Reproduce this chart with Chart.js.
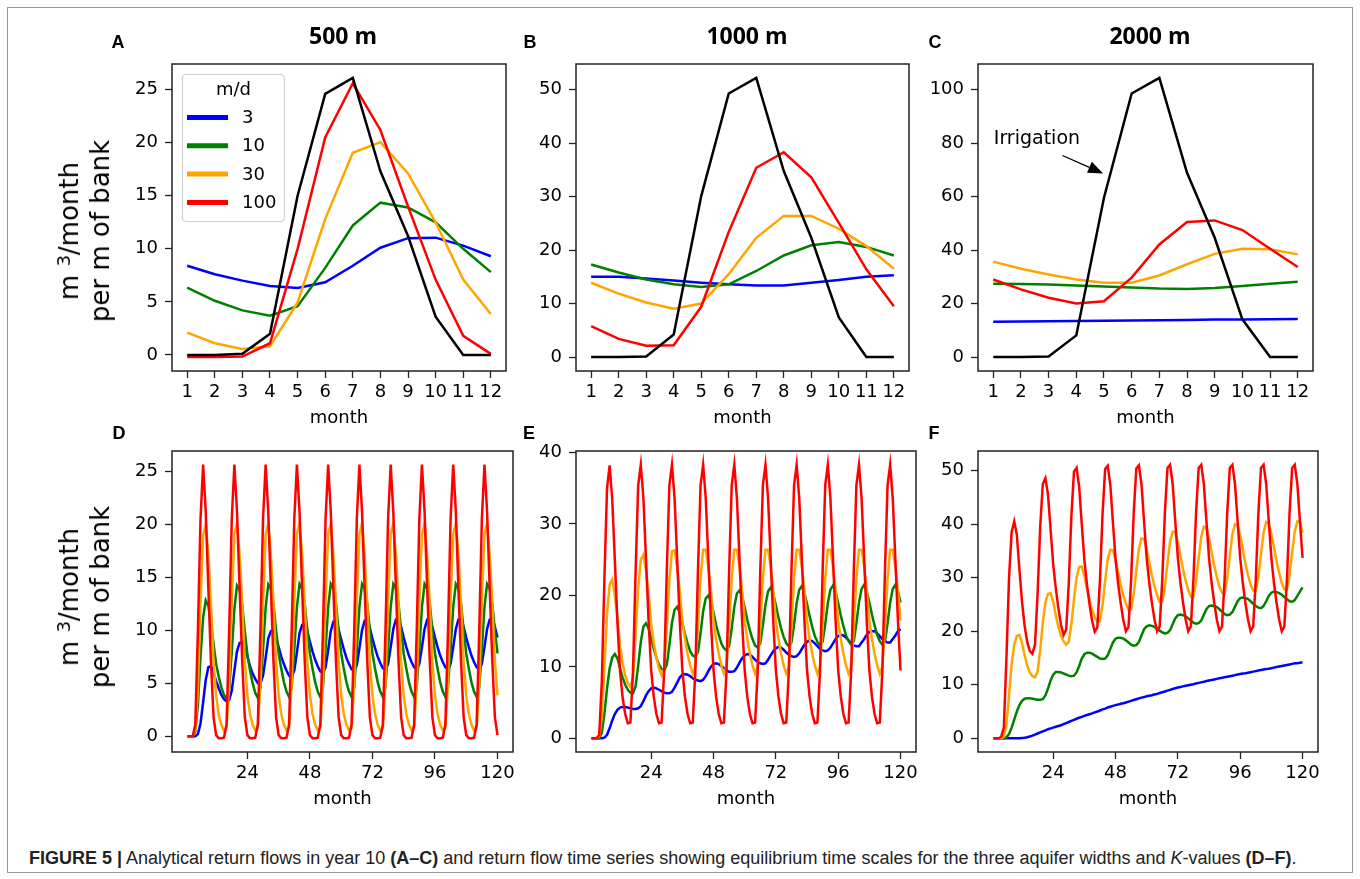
<!DOCTYPE html>
<html>
<head>
<meta charset="utf-8">
<script src="https://cdn.jsdelivr.net/npm/chart.js@4.4.0/dist/chart.umd.min.js"></script>
<style>
body { margin: 0; background: #fff; width: 1360px; height: 879px; position: relative; overflow: hidden; font-family: "DejaVu Sans", sans-serif; }
.frame { position: absolute; left: 7px; top: 7px; width: 1346px; height: 866px; border: 1px solid #999; box-sizing: border-box; }
canvas { position: absolute; }
.letter { position: absolute; font: bold 18px "Liberation Sans", Arial, sans-serif; transform: translate(-50%, -50%); }
.title { position: absolute; font: bold 23px "Open Sans", sans-serif; transform: translate(-50%, -50%); white-space: nowrap; }
.ylab { position: absolute; font: 26px "DejaVu Sans", sans-serif; line-height: 31px; text-align: center; white-space: nowrap; transform: translate(-50%, -50%) rotate(-90deg); }
.caption { position: absolute; left: 29px; top: 848px; font: 18px "Liberation Sans Narrow", "Liberation Sans", sans-serif; color: #222; white-space: nowrap; }
</style>
</head>
<body>
<div class="frame"></div>
<script>
// months on the x axis
const months = [1, 2, 3, 4, 5, 6, 7, 8, 9, 10, 11, 12];
const monthsLong = Array.from({ length: 120 }, (_, i) => i + 1);
const longTicks = [24, 48, 72, 96, 120];

// y tick labels
const aTicks = [0, 5, 10, 15, 20, 25];
const bTicks = [0, 10, 20, 30, 40, 50];
const cTicks = [0, 20, 40, 60, 80, 100];
const eTicks = [0, 10, 20, 30, 40];

// series names (K in m/d) + irrigation
const kLabels = ['3', '10', '30', '100'];

// year 10, 500 m
const aBlue = [8.4, 7.6, 7.0, 6.5, 6.3, 6.85, 8.4, 10.1, 11.0, 11.05, 10.3, 9.3];
const aGreen = [6.35, 5.1, 4.2, 3.7, 4.6, 8.2, 12.2, 14.35, 13.9, 12.5, 10.0, 7.8];
const aOrange = [2.1, 1.1, 0.55, 0.8, 4.95, 12.8, 19.05, 20.05, 17.1, 12.5, 7.1, 3.85];
const aRed = [-0.2, -0.2, -0.15, 1.1, 10.0, 20.5, 25.6, 21.2, 14.0, 7.1, 1.8, 0.1];
const aIrr = [0, 0, 0.1, 2.0, 15.0, 24.6, 26.1, 17.3, 11.2, 3.6, 0, 0];

// year 10, 1000 m
const bBlue = [15.0, 15.0, 14.7, 14.3, 13.9, 13.6, 13.4, 13.4, 13.9, 14.4, 15.0, 15.3];
const bGreen = [17.3, 15.8, 14.5, 13.6, 13.1, 13.6, 16.1, 19.0, 20.9, 21.5, 20.6, 19.0];
const bOrange = [13.9, 11.85, 10.2, 9.05, 10.0, 15.5, 22.3, 26.4, 26.4, 24.0, 20.75, 16.5];
const bRed = [5.8, 3.4, 2.1, 2.2, 9.4, 23.4, 35.4, 38.3, 33.6, 25.1, 16.4, 9.5];
const bIrr = [0, 0, 0.1, 4.2, 30.1, 49.3, 52.2, 34.8, 22.3, 7.4, 0, 0];

// year 10, 2000 m
const cBlue = [13.2, 13.3, 13.4, 13.5, 13.6, 13.7, 13.8, 13.9, 14.0, 14.0, 14.1, 14.2];
const cGreen = [27.4, 27.3, 27.1, 26.8, 26.4, 26.0, 25.6, 25.5, 25.8, 26.6, 27.4, 28.2];
const cOrange = [35.7, 33.0, 30.9, 29.0, 27.8, 27.8, 30.5, 34.7, 38.6, 40.5, 40.3, 38.4];
const cRed = [29.0, 25.3, 22.2, 20.0, 20.9, 29.7, 42.1, 50.5, 51.1, 47.5, 40.5, 33.7];
const cIrr = [0, 0, 0.2, 8.1, 59.6, 98.6, 104.4, 68.9, 44.6, 14.1, 0, 0];

// 10 year series, 500 m (one row per year)
const dBlue = [
  0, 0, 0, 0, 0.2, 1.2, 3.2, 5.3, 6.5, 6.6, 6.0, 5.2,
  4.5, 3.9, 3.5, 3.3, 3.4, 4.3, 6.2, 8.0, 8.8, 8.9, 8.3, 7.5,
  6.6, 5.9, 5.4, 5.0, 5.0, 5.7, 7.4, 9.2, 9.9, 10.0, 9.3, 8.4,
  7.5, 6.8, 6.2, 5.7, 5.6, 6.2, 7.9, 9.7, 10.5, 10.6, 9.9, 8.9,
  8.0, 7.2, 6.6, 6.1, 6.0, 6.5, 8.1, 9.9, 10.8, 10.9, 10.1, 9.1,
  8.2, 7.4, 6.8, 6.3, 6.2, 6.7, 8.3, 10.0, 10.9, 11.0, 10.2, 9.2,
  8.3, 7.5, 6.9, 6.4, 6.3, 6.8, 8.4, 10.1, 11.0, 11.05, 10.3, 9.3,
  8.4, 7.6, 7.0, 6.5, 6.3, 6.85, 8.4, 10.1, 11.0, 11.05, 10.3, 9.3,
  8.4, 7.6, 7.0, 6.5, 6.3, 6.85, 8.4, 10.1, 11.0, 11.05, 10.3, 9.3,
  8.4, 7.6, 7.0, 6.5, 6.3, 6.85, 8.4, 10.1, 11.0, 11.05, 10.3, 9.3
];
const dGreen = [
  0, 0, 0, 0.4, 3.0, 7.5, 11.2, 12.8, 12.3, 10.8, 8.7, 6.8,
  5.6, 4.6, 3.9, 3.5, 4.4, 8.0, 12.0, 14.2, 13.8, 12.4, 9.9, 7.7,
  6.2, 5.0, 4.1, 3.6, 4.55, 8.15, 12.15, 14.3, 13.9, 12.5, 10.0, 7.8,
  6.35, 5.1, 4.2, 3.7, 4.6, 8.2, 12.2, 14.35, 13.9, 12.5, 10.0, 7.8,
  6.35, 5.1, 4.2, 3.7, 4.6, 8.2, 12.2, 14.35, 13.9, 12.5, 10.0, 7.8,
  6.35, 5.1, 4.2, 3.7, 4.6, 8.2, 12.2, 14.35, 13.9, 12.5, 10.0, 7.8,
  6.35, 5.1, 4.2, 3.7, 4.6, 8.2, 12.2, 14.35, 13.9, 12.5, 10.0, 7.8,
  6.35, 5.1, 4.2, 3.7, 4.6, 8.2, 12.2, 14.35, 13.9, 12.5, 10.0, 7.8,
  6.35, 5.1, 4.2, 3.7, 4.6, 8.2, 12.2, 14.35, 13.9, 12.5, 10.0, 7.8,
  6.35, 5.1, 4.2, 3.7, 4.6, 8.2, 12.2, 14.35, 13.9, 12.5, 10.0, 7.8
];
const dOrange = [
  0, 0, 0, 0.6, 4.5, 12.5, 18.9, 20.0, 17.1, 12.5, 7.1, 3.85,
  2.0, 1.05, 0.5, 0.8, 4.95, 12.8, 19.05, 20.05, 17.1, 12.5, 7.1, 3.85,
  2.1, 1.1, 0.55, 0.8, 4.95, 12.8, 19.05, 20.05, 17.1, 12.5, 7.1, 3.85,
  2.1, 1.1, 0.55, 0.8, 4.95, 12.8, 19.05, 20.05, 17.1, 12.5, 7.1, 3.85,
  2.1, 1.1, 0.55, 0.8, 4.95, 12.8, 19.05, 20.05, 17.1, 12.5, 7.1, 3.85,
  2.1, 1.1, 0.55, 0.8, 4.95, 12.8, 19.05, 20.05, 17.1, 12.5, 7.1, 3.85,
  2.1, 1.1, 0.55, 0.8, 4.95, 12.8, 19.05, 20.05, 17.1, 12.5, 7.1, 3.85,
  2.1, 1.1, 0.55, 0.8, 4.95, 12.8, 19.05, 20.05, 17.1, 12.5, 7.1, 3.85,
  2.1, 1.1, 0.55, 0.8, 4.95, 12.8, 19.05, 20.05, 17.1, 12.5, 7.1, 3.85,
  2.1, 1.1, 0.55, 0.8, 4.95, 12.8, 19.05, 20.05, 17.1, 12.5, 7.1, 3.85
];
const dRed = [
  0, 0, 0, 1.1, 10.0, 20.5, 25.6, 21.2, 14.0, 7.1, 1.8, 0.1,
  -0.2, -0.2, -0.15, 1.1, 10.0, 20.5, 25.6, 21.2, 14.0, 7.1, 1.8, 0.1,
  -0.2, -0.2, -0.15, 1.1, 10.0, 20.5, 25.6, 21.2, 14.0, 7.1, 1.8, 0.1,
  -0.2, -0.2, -0.15, 1.1, 10.0, 20.5, 25.6, 21.2, 14.0, 7.1, 1.8, 0.1,
  -0.2, -0.2, -0.15, 1.1, 10.0, 20.5, 25.6, 21.2, 14.0, 7.1, 1.8, 0.1,
  -0.2, -0.2, -0.15, 1.1, 10.0, 20.5, 25.6, 21.2, 14.0, 7.1, 1.8, 0.1,
  -0.2, -0.2, -0.15, 1.1, 10.0, 20.5, 25.6, 21.2, 14.0, 7.1, 1.8, 0.1,
  -0.2, -0.2, -0.15, 1.1, 10.0, 20.5, 25.6, 21.2, 14.0, 7.1, 1.8, 0.1,
  -0.2, -0.2, -0.15, 1.1, 10.0, 20.5, 25.6, 21.2, 14.0, 7.1, 1.8, 0.1,
  -0.2, -0.2, -0.15, 1.1, 10.0, 20.5, 25.6, 21.2, 14.0, 7.1, 1.8, 0.1
];

// 10 year series, 1000 m
const eBlue = [
  0, 0, 0, 0, 0, 0.1, 0.5, 1.4, 2.5, 3.4, 4.0, 4.3,
  4.4, 4.4, 4.3, 4.2, 4.1, 4.1, 4.2, 4.5, 5.2, 6.0, 6.6, 7.0,
  7.1, 7.0, 6.8, 6.6, 6.4, 6.3, 6.3, 6.5, 7.1, 7.8, 8.5, 8.9,
  9.0, 8.9, 8.7, 8.4, 8.2, 8.1, 8.0, 8.2, 8.7, 9.4, 10.0, 10.4,
  10.5, 10.4, 10.1, 9.8, 9.5, 9.3, 9.3, 9.4, 9.9, 10.6, 11.2, 11.6,
  11.8, 11.7, 11.4, 11.0, 10.7, 10.5, 10.4, 10.5, 11.0, 11.6, 12.2, 12.6,
  12.8, 12.7, 12.4, 12.0, 11.7, 11.5, 11.4, 11.5, 11.9, 12.5, 13.1, 13.5,
  13.7, 13.6, 13.3, 12.9, 12.5, 12.3, 12.2, 12.3, 12.7, 13.3, 13.9, 14.3,
  14.5, 14.4, 14.1, 13.7, 13.3, 13.0, 12.9, 12.9, 13.4, 13.9, 14.5, 14.9,
  15.0, 15.0, 14.7, 14.3, 13.9, 13.6, 13.4, 13.4, 13.9, 14.4, 15.0, 15.3
];
const eGreen = [
  0, 0, 0, 0, 0.8, 3.5, 7.0, 9.8, 11.3, 11.8, 11.2, 9.8,
  8.5, 7.5, 6.8, 6.4, 6.3, 7.3, 10.2, 13.5, 15.6, 16.1, 15.4, 14.0,
  12.5, 11.3, 10.3, 9.7, 9.5, 10.3, 13.0, 16.2, 18.0, 18.4, 17.6, 16.1,
  14.6, 13.3, 12.2, 11.6, 11.4, 12.1, 14.7, 17.8, 19.6, 20.0, 19.2, 17.6,
  15.9, 14.5, 13.3, 12.6, 12.3, 12.9, 15.4, 18.4, 20.3, 20.7, 19.9, 18.3,
  16.6, 15.1, 13.9, 13.0, 12.7, 13.3, 15.8, 18.7, 20.6, 21.1, 20.2, 18.6,
  16.9, 15.4, 14.2, 13.3, 12.9, 13.4, 15.9, 18.9, 20.8, 21.3, 20.4, 18.8,
  17.1, 15.6, 14.3, 13.5, 13.0, 13.5, 16.0, 18.9, 20.8, 21.4, 20.5, 18.9,
  17.2, 15.7, 14.4, 13.6, 13.1, 13.6, 16.1, 19.0, 20.9, 21.5, 20.6, 19.0,
  17.3, 15.8, 14.5, 13.6, 13.1, 13.6, 16.1, 19.0, 20.9, 21.5, 20.6, 19.0
];
const eOrange = [
  0, 0, 0, 0.3, 3.0, 10.0, 17.5, 21.5, 22.2, 20.0, 16.8, 13.0,
  10.5, 8.8, 7.7, 7.2, 8.5, 14.5, 21.0, 25.0, 25.7, 23.5, 20.2, 16.0,
  13.3, 11.3, 9.8, 8.8, 9.8, 15.3, 22.1, 26.2, 26.3, 23.9, 20.6, 16.4,
  13.9, 11.85, 10.2, 9.05, 10.0, 15.5, 22.3, 26.4, 26.4, 24.0, 20.75, 16.5,
  13.9, 11.85, 10.2, 9.05, 10.0, 15.5, 22.3, 26.4, 26.4, 24.0, 20.75, 16.5,
  13.9, 11.85, 10.2, 9.05, 10.0, 15.5, 22.3, 26.4, 26.4, 24.0, 20.75, 16.5,
  13.9, 11.85, 10.2, 9.05, 10.0, 15.5, 22.3, 26.4, 26.4, 24.0, 20.75, 16.5,
  13.9, 11.85, 10.2, 9.05, 10.0, 15.5, 22.3, 26.4, 26.4, 24.0, 20.75, 16.5,
  13.9, 11.85, 10.2, 9.05, 10.0, 15.5, 22.3, 26.4, 26.4, 24.0, 20.75, 16.5,
  13.9, 11.85, 10.2, 9.05, 10.0, 15.5, 22.3, 26.4, 26.4, 24.0, 20.75, 16.5
];
const eRed = [
  0, 0, 0, 0.5, 8.0, 22.5, 35.0, 38.2, 33.5, 25.0, 16.3, 9.4,
  5.7, 3.4, 2.1, 2.2, 9.4, 23.4, 35.4, 38.3, 33.6, 25.1, 16.4, 9.5,
  5.8, 3.4, 2.1, 2.2, 9.4, 23.4, 35.4, 38.3, 33.6, 25.1, 16.4, 9.5,
  5.8, 3.4, 2.1, 2.2, 9.4, 23.4, 35.4, 38.3, 33.6, 25.1, 16.4, 9.5,
  5.8, 3.4, 2.1, 2.2, 9.4, 23.4, 35.4, 38.3, 33.6, 25.1, 16.4, 9.5,
  5.8, 3.4, 2.1, 2.2, 9.4, 23.4, 35.4, 38.3, 33.6, 25.1, 16.4, 9.5,
  5.8, 3.4, 2.1, 2.2, 9.4, 23.4, 35.4, 38.3, 33.6, 25.1, 16.4, 9.5,
  5.8, 3.4, 2.1, 2.2, 9.4, 23.4, 35.4, 38.3, 33.6, 25.1, 16.4, 9.5,
  5.8, 3.4, 2.1, 2.2, 9.4, 23.4, 35.4, 38.3, 33.6, 25.1, 16.4, 9.5,
  5.8, 3.4, 2.1, 2.2, 9.4, 23.4, 35.4, 38.3, 33.6, 25.1, 16.4, 9.5
];

// 10 year series, 2000 m
const fBlue = [
  0, 0, 0, 0, 0, 0, 0, 0, 0, 0, 0, 0.05,
  0.1, 0.2, 0.35, 0.5, 0.7, 0.9, 1.1, 1.3, 1.5, 1.7, 1.85, 2.0,
  2.15, 2.3, 2.45, 2.65, 2.85, 3.05, 3.25, 3.45, 3.65, 3.85, 4.0, 4.2,
  4.35, 4.5, 4.65, 4.85, 5.0, 5.2, 5.4, 5.55, 5.75, 5.9, 6.05, 6.2,
  6.3, 6.45, 6.55, 6.7, 6.85, 7.0, 7.15, 7.3, 7.45, 7.6, 7.7, 7.85,
  7.95, 8.05, 8.2, 8.3, 8.45, 8.6, 8.75, 8.9, 9.05, 9.2, 9.35, 9.5,
  9.6, 9.7, 9.8, 9.9, 10.0, 10.1, 10.25, 10.35, 10.45, 10.55, 10.7, 10.8,
  10.9, 11.0, 11.1, 11.2, 11.3, 11.4, 11.5, 11.6, 11.7, 11.8, 11.9, 12.0,
  12.1, 12.15, 12.25, 12.35, 12.45, 12.55, 12.65, 12.75, 12.85, 12.95, 13.0, 13.1,
  13.2, 13.3, 13.4, 13.5, 13.6, 13.7, 13.8, 13.9, 14.0, 14.0, 14.1, 14.2
];
const fGreen = [
  0, 0, 0, 0, 0, 0.2, 0.8, 2.0, 3.5, 5.0, 6.2, 7.0,
  7.4, 7.5, 7.5, 7.4, 7.3, 7.2, 7.2, 7.3, 8.0, 9.3, 10.8, 11.9,
  12.4, 12.4, 12.3, 12.1, 11.9, 11.7, 11.6, 11.7, 12.3, 13.5, 14.9, 15.7,
  16.0, 16.0, 15.8, 15.5, 15.2, 14.9, 14.8, 14.9, 15.5, 16.7, 17.9, 18.6,
  18.8, 18.8, 18.6, 18.3, 17.9, 17.5, 17.3, 17.4, 18.0, 19.2, 20.4, 20.9,
  21.1, 21.0, 20.8, 20.5, 20.1, 19.8, 19.6, 19.7, 20.2, 21.3, 22.4, 23.0,
  23.1, 23.0, 22.8, 22.4, 22.0, 21.6, 21.4, 21.5, 22.0, 23.1, 24.1, 24.7,
  24.8, 24.7, 24.5, 24.1, 23.6, 23.2, 23.0, 23.1, 23.6, 24.6, 25.6, 26.2,
  26.3, 26.2, 26.0, 25.6, 25.1, 24.7, 24.4, 24.3, 24.7, 25.6, 26.6, 27.2,
  27.4, 27.3, 27.1, 26.8, 26.4, 26.0, 25.6, 25.5, 25.8, 26.6, 27.4, 28.2
];
const fOrange = [
  0, 0, 0, 0, 0.3, 2.5, 8.0, 13.8, 17.5, 19.1, 19.3, 17.8,
  15.5, 13.6, 12.3, 11.6, 11.4, 12.5, 16.5, 21.5, 25.4, 27.0, 27.1, 25.5,
  23.0, 20.8, 19.2, 18.1, 17.5, 18.0, 21.3, 26.0, 30.0, 32.0, 32.1, 30.3,
  28.0, 25.8, 24.0, 22.6, 21.8, 21.9, 24.9, 29.4, 33.4, 35.2, 35.1, 33.3,
  31.0, 28.6, 26.7, 25.1, 24.0, 24.1, 26.9, 31.3, 35.4, 37.3, 37.2, 35.3,
  32.9, 30.4, 28.4, 26.7, 25.5, 25.6, 28.4, 32.7, 36.7, 38.6, 38.5, 36.6,
  34.1, 31.5, 29.5, 27.7, 26.5, 26.5, 29.3, 33.6, 37.6, 39.5, 39.3, 37.4,
  34.8, 32.2, 30.1, 28.3, 27.2, 27.1, 29.9, 34.1, 38.1, 40.0, 39.8, 37.9,
  35.3, 32.6, 30.5, 28.7, 27.6, 27.5, 30.2, 34.4, 38.4, 40.4, 40.1, 38.2,
  35.7, 33.0, 30.9, 29.0, 27.8, 27.8, 30.5, 34.7, 38.6, 40.5, 40.3, 38.4
];
const fRed = [
  0, 0, 0, 0.3, 2.0, 15.0, 30.0, 38.5, 40.5, 38.0, 31.5, 25.5,
  21.0, 18.0, 16.3, 15.8, 17.5, 27.0, 39.5, 47.5, 48.6, 45.5, 39.0, 32.5,
  28.0, 24.3, 21.2, 19.3, 20.3, 29.0, 41.5, 49.8, 50.5, 47.0, 40.0, 33.3,
  28.7, 25.0, 21.9, 19.9, 20.7, 29.5, 41.9, 50.3, 50.9, 47.3, 40.3, 33.5,
  28.9, 25.2, 22.1, 20.0, 20.8, 29.6, 42.0, 50.4, 51.0, 47.4, 40.4, 33.6,
  29.0, 25.3, 22.2, 20.0, 20.9, 29.7, 42.1, 50.5, 51.1, 47.5, 40.5, 33.7,
  29.0, 25.3, 22.2, 20.0, 20.9, 29.7, 42.1, 50.5, 51.1, 47.5, 40.5, 33.7,
  29.0, 25.3, 22.2, 20.0, 20.9, 29.7, 42.1, 50.5, 51.1, 47.5, 40.5, 33.7,
  29.0, 25.3, 22.2, 20.0, 20.9, 29.7, 42.1, 50.5, 51.1, 47.5, 40.5, 33.7,
  29.0, 25.3, 22.2, 20.0, 20.9, 29.7, 42.1, 50.5, 51.1, 47.5, 40.5, 33.7
];

const colors = ['#0000ff', '#008000', '#ffa500', '#ff0000', '#000000'];
const tickFont = { family: 'DejaVu Sans', size: 18 };

// axes frame like matplotlib spines
const boxPlugin = {
  id: 'box',
  afterDatasetsDraw(chart) {
    const a = chart.chartArea, c = chart.ctx;
    c.save();
    c.strokeStyle = '#222';
    c.lineWidth = 1.5;
    c.strokeRect(a.left, a.top, a.right - a.left, a.bottom - a.top);
    c.restore();
  }
};

const legendPlugin = {
  id: 'mdLegend',
  afterDraw(chart) {
    const a = chart.chartArea, c = chart.ctx;
    const x0 = a.left + 10.5, y0 = a.top + 10.5;
    c.save();
    c.beginPath();
    c.roundRect(x0, y0, 102, 147, 4);
    c.fillStyle = 'rgba(255,255,255,0.8)';
    c.fill();
    c.strokeStyle = '#d0d0d0';
    c.lineWidth = 1.2;
    c.stroke();
    c.font = '18px "DejaVu Sans"';
    c.fillStyle = '#000';
    c.textBaseline = 'middle';
    c.textAlign = 'center';
    c.fillText('m/d', x0 + 51, y0 + 16);
    c.textAlign = 'left';
    kLabels.forEach((lab, i) => {
      const y = y0 + 43 + i * 28.3;
      c.strokeStyle = colors[i];
      c.lineWidth = 5;
      c.beginPath();
      c.moveTo(x0 + 4.5, y);
      c.lineTo(x0 + 45.5, y);
      c.stroke();
      c.fillText(lab, x0 + 59.5, y + 1);
    });
    c.restore();
  }
};

const irrigationPlugin = {
  id: 'irrigation',
  afterDraw(chart) {
    const x = chart.scales.x, y = chart.scales.y, c = chart.ctx;
    c.save();
    c.font = '19px "DejaVu Sans"';
    c.fillStyle = '#000';
    c.textBaseline = 'middle';
    c.fillText('Irrigation', x.getPixelForValue(1.02), y.getPixelForValue(81.4));
    const x1 = x.getPixelForValue(3.5), y1 = y.getPixelForValue(75.4);
    const x2 = x.getPixelForValue(4.97), y2 = y.getPixelForValue(68.7);
    const ang = Math.atan2(y2 - y1, x2 - x1);
    const hl = 15, hw = 6;
    const bx = x2 - hl * Math.cos(ang), by = y2 - hl * Math.sin(ang);
    c.strokeStyle = '#000';
    c.lineWidth = 1.3;
    c.beginPath();
    c.moveTo(x1, y1);
    c.lineTo(bx, by);
    c.stroke();
    c.beginPath();
    c.moveTo(x2, y2);
    c.lineTo(bx + hw * Math.sin(ang), by - hw * Math.cos(ang));
    c.lineTo(bx - hw * Math.sin(ang), by + hw * Math.cos(ang));
    c.closePath();
    c.fill();
    c.restore();
  }
};

const YW = 70, PT = 20, PR = 26, XH = 58;

function makePanel(box, xs, xRange, xTicks, yTicks, series, extra) {
  const left = Math.round(box[0]) - YW, top = Math.round(box[1]) - PT;
  const w = Math.round(box[2]) - Math.round(box[0]), h = Math.round(box[3]) - Math.round(box[1]);
  const cv = document.createElement('canvas');
  cv.width = w + YW + PR;
  cv.height = h + PT + XH;
  cv.style.left = left + 'px';
  cv.style.top = top + 'px';
  document.body.appendChild(cv);

  let lo = Infinity, hi = -Infinity;
  series.forEach(s => s.forEach(v => { lo = Math.min(lo, v); hi = Math.max(hi, v); }));
  const m = (hi - lo) * 0.05;

  const datasets = series.map((vals, i) => ({
    label: i < 4 ? kLabels[i] : 'Irrigation',
    data: xs.map((x, j) => ({ x: x, y: vals[j] })),
    borderColor: colors[i],
    borderWidth: 2.5,
    pointRadius: 0,
    tension: 0,
    fill: false,
    order: 5 - i
  }));

  const axisCommon = {
    type: 'linear',
    grid: { drawOnChartArea: false, drawTicks: true, tickLength: 7, tickColor: '#222', tickWidth: 1.3 },
    border: { display: false },
    ticks: { color: '#000', font: tickFont, autoSkip: false, maxRotation: 0 }
  };

  new Chart(cv, {
    type: 'line',
    data: { datasets: datasets },
    options: {
      responsive: false,
      animation: false,
      events: [],
      layout: { padding: { left: 0, top: PT, right: PR, bottom: 0 } },
      plugins: { legend: { display: false }, tooltip: { enabled: false } },
      scales: {
        x: {
          ...axisCommon,
          min: xRange[0],
          max: xRange[1],
          ticks: { ...axisCommon.ticks, padding: 4 },
          afterBuildTicks: s => { s.ticks = xTicks.map(v => ({ value: v })); },
          afterFit: s => { s.height = XH; },
          title: { display: true, text: 'month', color: '#000', font: tickFont, padding: 0 }
        },
        y: {
          ...axisCommon,
          min: lo - m,
          max: hi + m,
          ticks: { ...axisCommon.ticks, padding: 7 },
          afterBuildTicks: s => { s.ticks = yTicks.map(v => ({ value: v })); },
          afterFit: s => { s.width = YW; }
        }
      }
    },
    plugins: [boxPlugin].concat(extra || [])
  });
}

const xTop = [0.45, 12.55], xBot = [-4.95, 125.95];
makePanel([171.7, 64.3, 505.7, 371], months, xTop, months, aTicks, [aBlue, aGreen, aOrange, aRed, aIrr], [legendPlugin]);
makePanel([575.7, 64.3, 909.3, 371], months, xTop, months, bTicks, [bBlue, bGreen, bOrange, bRed, bIrr]);
makePanel([978.3, 64.3, 1312.7, 371], months, xTop, months, cTicks, [cBlue, cGreen, cOrange, cRed, cIrr], [irrigationPlugin]);
makePanel([172, 450.5, 513, 751.7], monthsLong, xBot, longTicks, aTicks, [dBlue, dGreen, dOrange, dRed]);
makePanel([575.5, 450.5, 915.5, 751.7], monthsLong, xBot, longTicks, eTicks, [eBlue, eGreen, eOrange, eRed]);
makePanel([978.3, 450.5, 1318.3, 751.7], monthsLong, xBot, longTicks, bTicks, [fBlue, fGreen, fOrange, fRed]);

// text around the panels
function addText(cls, html, x, y) {
  const d = document.createElement('div');
  d.className = cls;
  d.innerHTML = html;
  d.style.left = x + 'px';
  d.style.top = y + 'px';
  document.body.appendChild(d);
}
addText('title', '500 m', 343, 35);
addText('title', '1000 m', 747, 35);
addText('title', '2000 m', 1150, 35);
[['A', 118, 42], ['B', 530, 42], ['C', 935, 42], ['D', 119, 433], ['E', 529, 433], ['F', 934, 433]]
  .forEach(t => addText('letter', t[0], t[1], t[2]));
addText('ylab', 'm <span style="font-size:18px;vertical-align:8px">3</span>/month<br>per m of bank', 82, 231);
addText('ylab', 'm <span style="font-size:18px;vertical-align:8px">3</span>/month<br>per m of bank', 82, 597);

const cap = document.createElement('div');
cap.className = 'caption';
cap.innerHTML = '<b>FIGURE 5 |</b> Analytical return flows in year 10 <b>(A–C)</b> and return flow time series showing equilibrium time scales for the three aquifer widths and <i>K</i>-values <b>(D–F)</b>.';
document.body.appendChild(cap);
</script>
</body>
</html>
